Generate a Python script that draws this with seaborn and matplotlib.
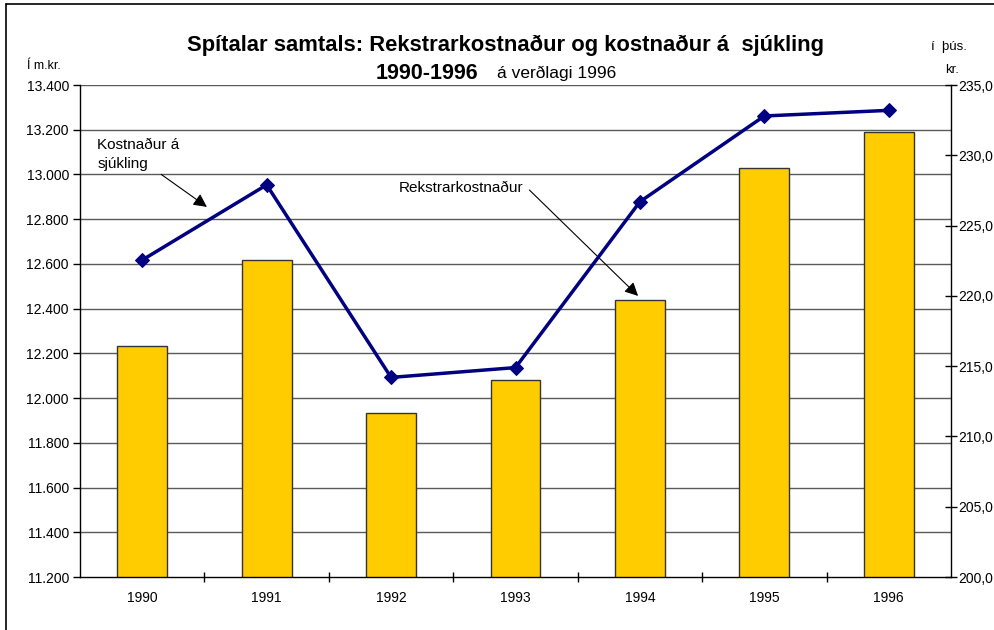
import numpy as np
import pandas as pd
import matplotlib
matplotlib.use('Agg')
import matplotlib.pyplot as plt
from matplotlib.lines import Line2D
from matplotlib.ticker import FuncFormatter, FixedLocator
import seaborn as sns

# data
years = ['1990', '1991', '1992', '1993', '1994', '1995', '1996']
rekstrarkostnadur = [12233, 12618, 11933, 12081, 12439, 13030, 13189]  # m.kr., left axis
kostn_sjukling = [222.55, 227.9, 214.2, 214.9, 226.7, 232.8, 233.2]    # þús. kr., right axis
left_ticks = [11200, 11400, 11600, 11800, 12000, 12200, 12400, 12600, 12800, 13000, 13200, 13400]
right_ticks = [200, 205, 210, 215, 220, 225, 230, 235]

sns.set_theme(style='white')
plt.rcParams['font.family'] = ['Liberation Sans', 'DejaVu Sans']
plt.rcParams['text.color'] = 'black'
plt.rcParams['xtick.labelcolor'] = 'black'
plt.rcParams['ytick.labelcolor'] = 'black'

df = pd.DataFrame({'ar': years, 'rekstur': rekstrarkostnadur,
                   'pos': np.arange(len(years)), 'sjukl': kostn_sjukling})

fig = plt.figure(figsize=(9.95, 6.3), dpi=100)
ax = fig.add_axes([0.0804, 0.0841, 0.8754, 0.7809])

# horizontal gridlines first, behind bars
for t in left_ticks[1:]:
    ax.axhline(t, color='#5a5a5a', lw=1, zorder=0)

sns.barplot(data=df, x='ar', y='rekstur', ax=ax, color='#FFCC00', width=0.4,
            edgecolor='#333333', linewidth=1, saturation=1, zorder=2)
ax.set_xlim(-0.5, len(years) - 0.5)
ax.set_ylim(left_ticks[0], left_ticks[-1])
ax.set_yticks(left_ticks)
ax.yaxis.set_major_formatter(FuncFormatter(lambda v, p: f"{v:,.0f}".replace(',', '.')))
ax.set_xlabel('')
ax.set_ylabel('')
ax.tick_params(axis='y', direction='out', length=5, width=1, color='black',
               labelsize=10, pad=3, left=True, labelcolor='black')
ax.tick_params(axis='x', which='major', length=0, labelsize=10, pad=10, labelcolor='black')
ax.xaxis.set_minor_locator(FixedLocator(np.arange(0.5, len(years) - 1, 1.0)))
ax.tick_params(axis='x', which='minor', direction='inout', length=7, width=1,
               color='black', bottom=True)
for s in ['left', 'bottom']:
    ax.spines[s].set_color('black')
    ax.spines[s].set_linewidth(1)
ax.spines['top'].set_visible(False)
ax.spines['right'].set_visible(False)

ax2 = ax.twinx()
sns.lineplot(data=df, x='pos', y='sjukl', ax=ax2, color='#000080', lw=2.5,
             marker='D', markersize=7, markeredgecolor='#000080', zorder=3)
ax2.set_ylim(right_ticks[0], right_ticks[-1])
ax2.set_yticks(right_ticks)
ax2.yaxis.set_major_formatter(FuncFormatter(lambda v, p: f"{v:.1f}".replace('.', ',')))
ax2.set_ylabel('')
ax2.set_xlabel('')
ax2.tick_params(axis='y', direction='inout', length=9, width=1, color='black',
                labelsize=10, pad=1, right=True, labelcolor='black')
ax2.spines['right'].set_color('black')
ax2.spines['right'].set_linewidth(1)
for s in ['left', 'top', 'bottom']:
    ax2.spines[s].set_visible(False)
ax2.set_xlim(-0.5, len(years) - 0.5)

# annotations
ax.annotate('Kostnaður á\nsjúkling', xy=(0.52, 12855), xytext=(-0.36, 13090),
            fontsize=11, ha='left', va='center', linespacing=1.5,
            arrowprops=dict(arrowstyle='-|>', color='black', lw=0.8,
                            mutation_scale=20, shrinkA=0, shrinkB=0,
                            relpos=(0.72, 0.0)), zorder=5)
ax.annotate('Rekstrarkostnaður', xy=(3.985, 12457), xytext=(2.06, 12940),
            fontsize=11, ha='left', va='center',
            arrowprops=dict(arrowstyle='-|>', color='black', lw=0.8,
                            mutation_scale=20, shrinkA=0, shrinkB=0,
                            relpos=(1.05, 0.35)), zorder=5)

# titles and axis unit labels
fig.text(0.508, 0.928, 'Spítalar samtals: Rekstrarkostnaður og kostnaður á  sjúkling',
         ha='center', va='center', fontsize=15.8, fontweight='bold')
fig.text(0.481, 0.884, '1990-1996', ha='right', va='center', fontsize=15.5, fontweight='bold')
fig.text(0.499, 0.884, 'á verðlagi 1996', ha='left', va='center', fontsize=12.5)
fig.text(0.027, 0.896, 'Í m.kr.', ha='left', va='center', fontsize=9)
fig.text(0.936, 0.925, 'í  þús.', ha='left', va='center', fontsize=9.5)
fig.text(0.950, 0.889, 'kr.', ha='left', va='center', fontsize=9.5)

# outer frame (top and left edges visible in the reference)
fig.add_artist(Line2D([0.006, 1.0], [0.9937, 0.9937], color='black', lw=1.2))
fig.add_artist(Line2D([0.006, 0.006], [0.0, 0.9937], color='black', lw=1.2))

fig.savefig('out.png', dpi=100)
